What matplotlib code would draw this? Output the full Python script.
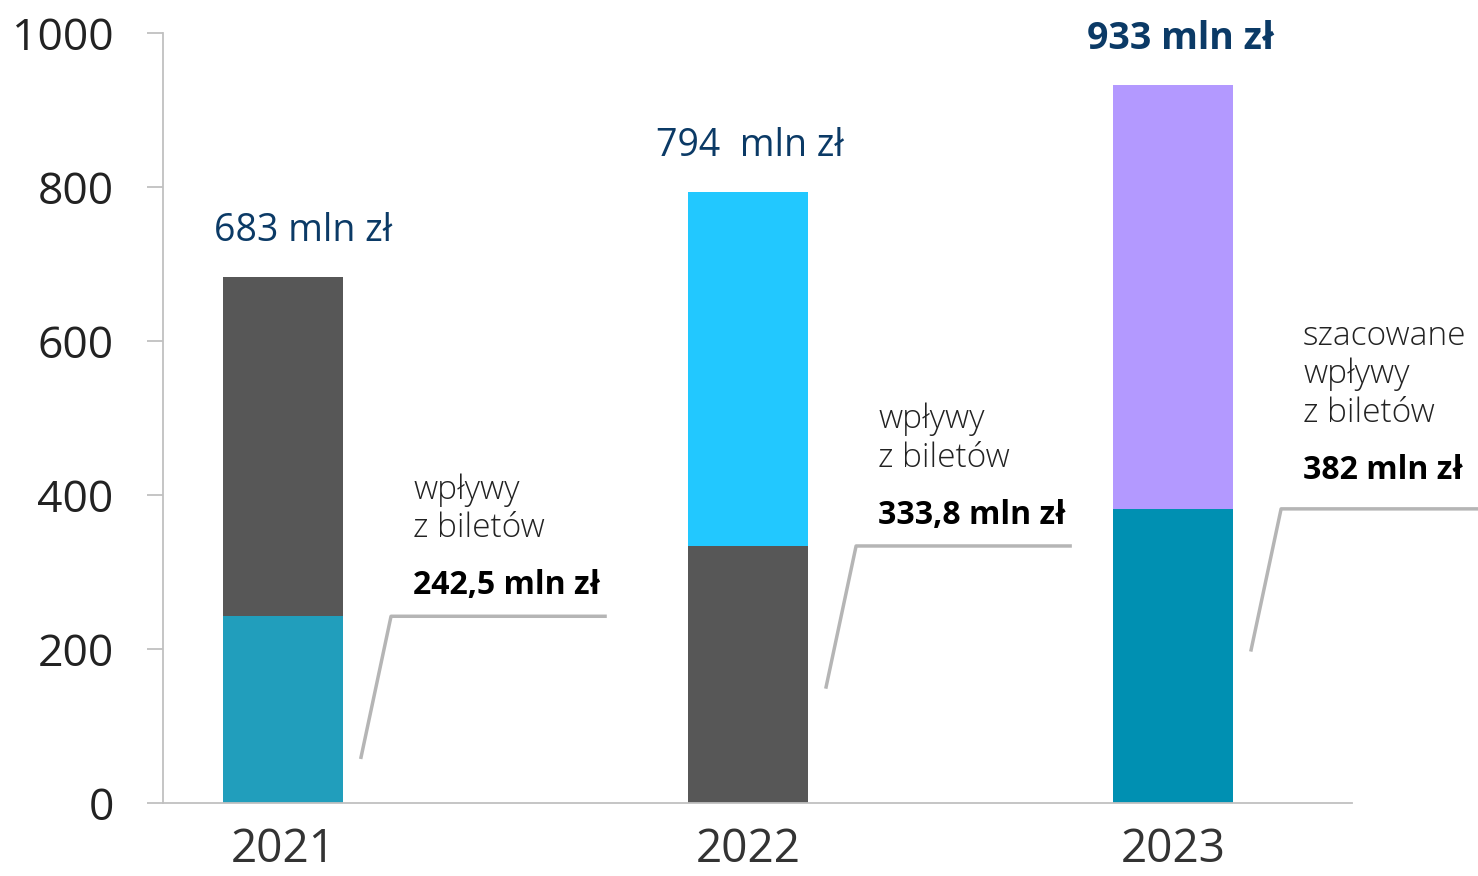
import matplotlib.pyplot as plt
import numpy as np

plt.rcParams['font.family'] = ['Open Sans', 'DejaVu Sans']

years = ['2021', '2022', '2023']
totals = [683, 794, 933]
tickets = [242.5, 333.8, 382]
total_labels = ['683 mln zł', '794  mln zł', '933 mln zł']
ticket_labels = ['242,5 mln zł', '333,8 mln zł', '382 mln zł']
note_labels = ['wpływy\nz biletów', 'wpływy\nz biletów', 'szacowane\nwpływy\nz biletów']
bottom_colors = ['#219EBC', '#575757', '#0090B2']
top_colors = ['#575757', '#22C8FF', '#B399FF']
total_weights = ['medium', 'medium', 'bold']

# layout: bar centres and label shifts
x_pos = np.array([0, 1.045, 2])
total_dx = [20, 2, 8]
note_dy = [0, 0, 8]

fig = plt.figure(figsize=(14.78, 8.76), dpi=100)
ax = fig.add_axes([163 / 1478, 73 / 876, 1189 / 1478, 770 / 876])

rest = np.array(totals) - np.array(tickets)
ax.bar(x_pos, tickets, width=0.27, color=bottom_colors)
ax.bar(x_pos, rest, bottom=tickets, width=0.27, color=top_colors)

ax.set_xlim(-0.2697, 2.402)
ax.set_ylim(0, 1000)
ax.set_yticks(range(0, 1001, 200))
ax.set_xticks(x_pos)
ax.set_xticklabels(years)

for s in ['top', 'right']:
    ax.spines[s].set_visible(False)
for s in ['left', 'bottom']:
    ax.spines[s].set_color('#c0c0c0')
    ax.spines[s].set_linewidth(1.3)
ax.tick_params(axis='y', length=11.5, width=1.3, color='#c0c0c0', pad=24,
               labelsize=32, labelcolor='#222222')
ax.tick_params(axis='x', length=0, pad=17, labelsize=33, labelcolor='#333333')

# px -> data units
px_x = 1 / 445
px_y = 1000 / 770

for i in range(len(years)):
    xi = x_pos[i]
    ax.annotate(total_labels[i], xy=(xi, totals[i]), xytext=(total_dx[i], 36),
                textcoords='offset pixels', ha='center', va='baseline',
                fontsize=27, color='#0B3A66', fontweight=total_weights[i])

    # connector line
    lx = xi + np.array([78, 108, 322]) * px_x
    ly = [tickets[i] - 141 * px_y, tickets[i], tickets[i]]
    ax.plot(lx, ly, color='#b5b5b5', lw=2.5, clip_on=False)

    ax.annotate(ticket_labels[i], xy=(xi, tickets[i]), xytext=(130, 22 + note_dy[i]),
                textcoords='offset pixels', ha='left', va='baseline',
                fontsize=23, color='black', fontweight='bold')
    ax.annotate(note_labels[i], xy=(xi, tickets[i]), xytext=(130, 79 + note_dy[i]),
                textcoords='offset pixels', ha='left', va='baseline',
                fontsize=24, color='#222222', fontweight='light', linespacing=1.2)

fig.savefig('out.png', dpi=100)
